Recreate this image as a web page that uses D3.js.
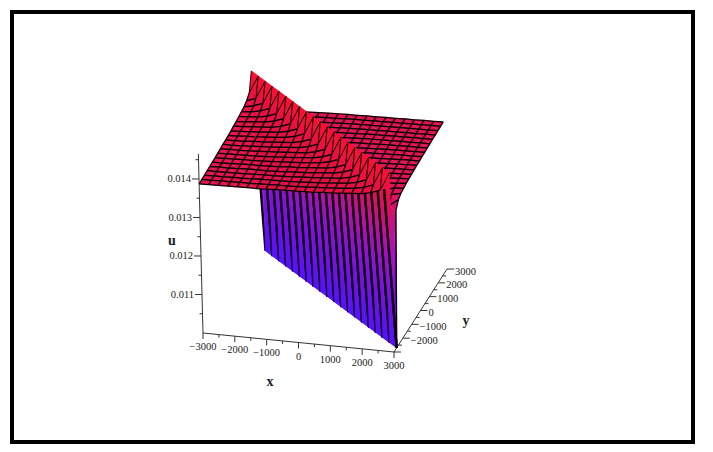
<!DOCTYPE html>
<html><head><meta charset="utf-8">
<script src="https://cdnjs.cloudflare.com/ajax/libs/d3/7.8.5/d3.min.js"></script>
<style>html,body{margin:0;padding:0;background:#fff}svg{display:block}
text{font-family:"Liberation Serif","Times New Roman",serif;fill:#222}</style>
</head><body><svg id="c" width="713" height="452"></svg>
<script>
const xGrid=[-3000,-2700,-2400,-2100,-1800,-1500,-1200,-900,-600,-300,0,300,600,900,1200,1500,1800,2100,2400,2700,3000];
const yGrid=[-3000,-2700,-2400,-2100,-1800,-1500,-1200,-900,-600,-300,0,300,600,900,1200,1500,1800,2100,2400,2700,3000];
const uByDiagonal=[0.01387,0.01388,0.01388,0.01389,0.01389,0.0139,0.0139,0.01391,0.01392,0.01393,0.01393,0.01394,0.01395,0.01397,0.01398,0.014,0.01402,0.01404,0.01409,0.01418,0.01465,
0.0100,0.01345,0.01363,0.01369,0.01371,0.01373,0.01374,0.01375,0.01376,0.01377,0.01377,0.01378,0.01378,0.01379,0.01379,0.0138,0.0138,0.01381,0.01381,0.01382];
const xTicks=[-3000,-2000,-1000,0,1000,2000,3000];
const xMinor=[-2500,-1500,-500,500,1500,2500];
const yTicks=[-3000,-2000,-1000,0,1000,2000,3000];
const yLabels=[-2000,-1000,0,1000,2000,3000];
const yMinor=[-2500,-1500,-500,500,1500,2500];
const uTicks=[0.011,0.012,0.013,0.014];
const uMinor=[0.0105,0.0115,0.0125,0.0135,0.0145];
const colorStops=[0.01,0.012,0.013,0.0138,0.0147];
const colorValues=["#5510ff","#9010d8","#c01098","#e0104c","#ff1030"];

const xPx=d3.scaleLinear([-3000,3000],[0,191]), xPy=d3.scaleLinear([-3000,3000],[0,19]);
const yPx=d3.scaleLinear([-3000,3000],[0,53]), yPy=d3.scaleLinear([-3000,3000],[0,-83]);
const uPx=d3.scaleLinear([0.01,0.0147],[0,-4.7]), uPy=d3.scaleLinear([0.01,0.0147],[0,-181]);
const ox=203, oy=333;
const P=(x,y,u)=>[ox+xPx(x)+yPx(y)+uPx(u), oy+xPy(x)+yPy(y)+uPy(u)];
const color=d3.scaleLinear(colorStops,colorValues);
const fmt=v=>v<0?"\u2212"+Math.abs(v):""+v;

const svg=d3.select("#c");
const defs=svg.append("defs");
svg.append("rect").attr("x",12).attr("y",12).attr("width",681).attr("height",430).attr("fill","#fff").attr("stroke","#000").attr("stroke-width",4);

const axisG=svg.append("g").attr("stroke","#333").attr("stroke-width",1).attr("fill","none");
const seg=(g,a,b)=>g.append("line").attr("x1",a[0]).attr("y1",a[1]).attr("x2",b[0]).attr("y2",b[1]);
seg(axisG,P(-3000,-3000,0.01),P(3000,-3000,0.01));
seg(axisG,P(3000,-3000,0.01),P(3000,3000,0.01));
seg(axisG,P(-3000,-3000,0.01),P(-3000,-3000,0.01465));
xTicks.forEach(v=>{const p=P(v,-3000,0.01);seg(axisG,p,[p[0],p[1]+6]);
 svg.append("text").attr("x",p[0]).attr("y",p[1]+17).attr("text-anchor","middle").attr("font-size",10.5).text(fmt(v));});
xMinor.forEach(v=>{const p=P(v,-3000,0.01);seg(axisG,p,[p[0],p[1]+3]);});
yTicks.forEach(v=>{const p=P(3000,v,0.01);seg(axisG,p,[p[0]+7,p[1]]);});
yMinor.forEach(v=>{const p=P(3000,v,0.01);seg(axisG,p,[p[0]+3.5,p[1]]);});
yLabels.forEach(v=>{const p=P(3000,v,0.01);
 svg.append("text").attr("x",p[0]+8).attr("y",p[1]+5.5).attr("font-size",10.5).text(fmt(v));});
uTicks.forEach(v=>{const p=P(-3000,-3000,v);seg(axisG,p,[p[0]-7,p[1]]);
 svg.append("text").attr("x",p[0]-8).attr("y",p[1]+3.5).attr("text-anchor","end").attr("font-size",10.5).text(v);});
uMinor.forEach(v=>{const p=P(-3000,-3000,v);seg(axisG,p,[p[0]-3,p[1]]);});
const lab=(t,x,y)=>svg.append("text").attr("x",x).attr("y",y).attr("text-anchor","middle").attr("font-size",14).attr("font-weight","bold").text(t);
lab("x",270,386);lab("y",466,325);lab("u",172,245);

const surf=svg.append("g");
let gid=0;
function tri(a,b,c){ // a = apex vertex, b,c share the same u
 const pa=P(...a),pb=P(...b),pc=P(...c);
 const d=[pc[0]-pb[0],pc[1]-pb[1]],t=((pa[0]-pb[0])*d[0]+(pa[1]-pb[1])*d[1])/(d[0]*d[0]+d[1]*d[1]);
 const q=[pb[0]+t*d[0],pb[1]+t*d[1]];
 const id="g"+(gid++);
 const lg=defs.append("linearGradient").attr("id",id).attr("gradientUnits","userSpaceOnUse")
  .attr("x1",pa[0]).attr("y1",pa[1]).attr("x2",q[0]).attr("y2",q[1]);
 const steps=Math.abs(a[2]-b[2])>0.0005?8:1;
 d3.range(steps+1).forEach(s=>lg.append("stop").attr("offset",s/steps).attr("stop-color",color(a[2]+(b[2]-a[2])*s/steps)));
 surf.append("path").attr("d",d3.line()([pa,pb,pc])+"Z").attr("fill",`url(#${id})`).attr("stroke",`url(#${id})`).attr("stroke-width",0.4);
}
const last=xGrid.length-1;
const WALL_HI=20, WALL_LO=21; // grid diagonals on either side of the jump
function edge(ia,ja,ib,jb){
 const ka=ia+ja,kb=ib+jb,lo=Math.min(ka,kb),isX=ja===jb;
 let w=1.25, upTo=1;
 if(lo===WALL_HI){ if(!isX) return; w=2.4; upTo=0.88; }
 else if(lo===WALL_LO){ if(!(Math.max(ia,ib)===last&&!isX)) return; w=1.5; }
 else if(lo===WALL_HI-1) w=0.9;
 let a=P(xGrid[ia],yGrid[ja],uByDiagonal[ka]),b=P(xGrid[ib],yGrid[jb],uByDiagonal[kb]);
 if(upTo<1){ // the thick wall stripes stop just under the ridge they run behind
  const bottom=ka>kb?a:b, crest=ka>kb?b:a;
  a=bottom; b=[bottom[0]+(crest[0]-bottom[0])*upTo,bottom[1]+(crest[1]-bottom[1])*upTo];
 }
 surf.append("line").attr("x1",a[0]).attr("y1",a[1]).attr("x2",b[0]).attr("y2",b[1])
  .attr("stroke","#0a0206").attr("stroke-width",w).attr("stroke-linecap","butt");
}
for(let j=last-1;j>=0;j--){
 for(let i=0;i<last;i++){
  const v=(a,b)=>[xGrid[a],yGrid[b],uByDiagonal[a+b]];
  const A=v(i,j),B=v(i+1,j),C=v(i+1,j+1),D=v(i,j+1);
  tri(C,B,D); tri(A,B,D);
  edge(i,j,i+1,j); edge(i+1,j,i+1,j+1); edge(i,j+1,i+1,j+1); edge(i,j,i,j+1);
 }
}
</script></body></html>
